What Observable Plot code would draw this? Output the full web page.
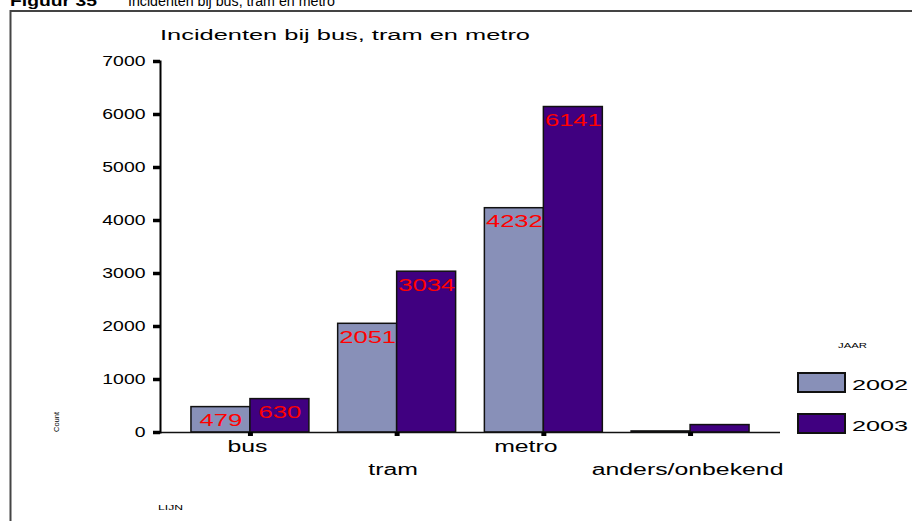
<!DOCTYPE html>
<html>
<head>
<meta charset="utf-8">
<script src="https://cdn.jsdelivr.net/npm/d3@7"></script>
<script src="https://cdn.jsdelivr.net/npm/@observablehq/plot@0.6"></script>
<style>
  html, body { margin: 0; padding: 0; background: #fff; }
  #chart { position: relative; width: 912px; height: 521px; overflow: hidden; }
</style>
</head>
<body>
<div id="chart"></div>
<script>
// ---- data ----
const categories = ["bus", "tram", "metro", "anders/onbekend"];
const years = ["2002", "2003"];
const values2002 = [479, 2051, 4232, 20];
const values2003 = [630, 3034, 6141, 140];
const yTicks = [0, 1000, 2000, 3000, 4000, 5000, 6000, 7000];
const colors = ["#8890b8", "#400080"];
const titleText = "Incidenten bij bus, tram en metro";
const figureLabel = "Figuur 35";
const figureTitle = "Incidenten bij bus, tram en metro";
const xLabel = "LIJN";
const yLabel = "Count";
const legendTitle = "JAAR";

const rows2002 = categories.map((c, i) => ({cat: c, year: years[0], value: values2002[i]}));
const rows2003 = categories.map((c, i) => ({cat: c, year: years[1], value: values2003[i]}));

const W = 912, H = 521;
const mL = 160, mR = 132, mT = 61, mB = 89;
const half = 59;
// small horizontal nudges of the category labels, as in the reference
const labelDx = {"bus": -3, "tram": -4, "metro": -18, "anders/onbekend": -3};

const chart = Plot.plot({
  width: W, height: H,
  marginLeft: mL, marginRight: mR, marginTop: mT, marginBottom: mB,
  x: {type: "band", domain: categories, paddingInner: 0.196, paddingOuter: 0.211, round: false},
  y: {domain: [0, 7000]},
  style: {fontFamily: "'Liberation Sans', Arial, sans-serif", background: "transparent", overflow: "visible", color: "#000"},
  marks: [
    Plot.barY(rows2002, {x: "cat", y: "value", fill: colors[0], stroke: "#111", strokeWidth: 1.5, insetRight: half}),
    Plot.barY(rows2003, {x: "cat", y: "value", fill: colors[1], stroke: "#111", strokeWidth: 1.5, insetLeft: half}),
    Plot.text(rows2002.filter(d => d.value >= 300), {x: "cat", y: "value", text: d => String(d.value), dx: -29.5, dy: 14, fill: "#ff0000", fontSize: 16.5}),
    Plot.text(rows2003.filter(d => d.value >= 300), {x: "cat", y: "value", text: d => String(d.value), dx: 29.5, dy: 14, fill: "#ff0000", fontSize: 16.5}),
    Plot.ruleY([0], {stroke: "#111", strokeWidth: 1.5}),
    Plot.frame({anchor: "left", stroke: "#000", strokeWidth: 2}),
    Plot.axisY(yTicks, {tickSize: 7, tickPadding: 8, strokeWidth: 3.5, fontSize: 14.5, tickFormat: d => String(d), label: null}),
    Plot.axisX({tickSize: 4, strokeWidth: 5, tickFormat: () => "", label: null}),
    ...categories.map((c, i) => Plot.text([c], {x: d => d, text: d => d, frameAnchor: "bottom", lineAnchor: "top", dy: i % 2 === 0 ? 8 : 31, dx: labelDx[c], fontSize: 16, fill: "#000"}))
  ]
});

document.getElementById("chart").append(chart);

const svg = d3.select(chart);
const FONT = "'Liberation Sans', Arial, sans-serif";

// stretch chart texts horizontally (the reference is widened)
svg.selectAll("text").each(function () {
  const L = this.getComputedTextLength();
  if (L > 0) {
    const isTick = /^\d+$/.test(this.textContent) && this.getAttribute("fill") !== "#ff0000" && !this.closest("[fill='#ff0000']");
    const f = isTick ? 1.34 : 1.55;
    this.setAttribute("textLength", (L * f).toFixed(1));
    this.setAttribute("lengthAdjust", "spacingAndGlyphs");
  }
});

// border box
svg.insert("rect", ":first-child")
  .attr("x", 10.5).attr("y", 11).attr("width", 1000).attr("height", 1000)
  .attr("fill", "none").attr("stroke", "#444").attr("stroke-width", 2);
svg.insert("rect", ":first-child")
  .attr("x", 0).attr("y", 0).attr("width", W).attr("height", H).attr("fill", "#fff");

function addText(str, x, y, opts) {
  const t = svg.append("text")
    .attr("x", x).attr("y", y)
    .attr("font-family", FONT)
    .attr("font-size", opts.size)
    .attr("fill", opts.fill || "#000")
    .attr("text-anchor", opts.anchor || "start")
    .text(str);
  if (opts.weight) t.attr("font-weight", opts.weight);
  if (opts.rotate) t.attr("transform", `rotate(${opts.rotate},${x},${y})`);
  if (opts.width) t.attr("textLength", opts.width).attr("lengthAdjust", "spacingAndGlyphs");
  return t;
}

// header above the box (partly cut off at the top, as in the reference)
addText(figureLabel, 10, 5.5, {size: 14, weight: "bold", width: 87});
addText(figureTitle, 128, 5.5, {size: 14, width: 207});

// chart title
addText(titleText, 160, 39.5, {size: 14, width: 370});

// axis titles
addText(yLabel, 58.5, 422, {size: 7.5, anchor: "middle", rotate: -90});
addText(xLabel, 158, 510, {size: 7, width: 25});

// legend
addText(legendTitle, 838, 348, {size: 7, width: 29});
years.forEach((yr, i) => {
  const y0 = 373 + i * 41;
  svg.append("rect")
    .attr("x", 798).attr("y", y0).attr("width", 47).attr("height", 19)
    .attr("fill", colors[i]).attr("stroke", "#111").attr("stroke-width", 2);
  addText(yr, 852, y0 + 17, {size: 15.5, width: 56});
});
</script>
</body>
</html>
